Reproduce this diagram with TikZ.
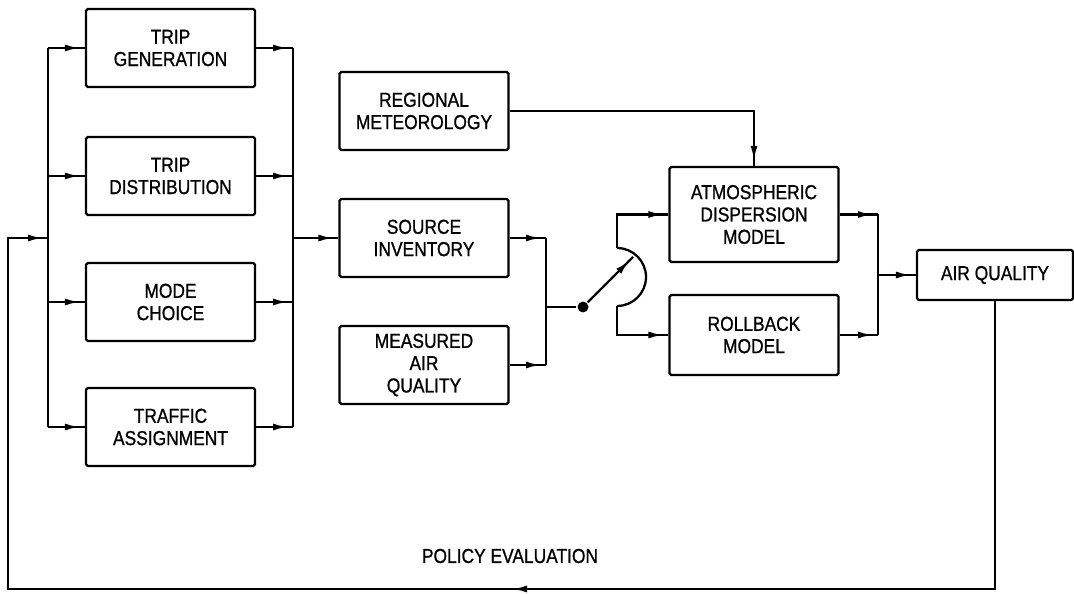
\documentclass[tikz,border=0pt]{standalone}
\usepackage{fontspec}
\setmainfont[FakeStretch=0.86,FakeBold=0.9]{Liberation Sans}
\usetikzlibrary{positioning,calc,arrows.meta,decorations.markings}

\begin{document}
\begin{tikzpicture} [x=0.02cm,y=-0.02cm,
	line width=1.3pt,
	block/.style={
		rectangle,draw,rounded corners=1pt,align=center,
		font=\fontsize{11.5}{12.7}\selectfont,
		minimum width=3.38cm,minimum height=1.56cm},
	tip/.style={
		decoration={markings,
			mark=at position -0.1cm with {\arrow{Latex[length=0.3cm,width=0.14cm]}}},
		postaction={decorate}}]
\useasboundingbox (0,0) rectangle (1074,594);
% transport models
\node[block] (trip generation) 	at (170.5,48) {TRIP\\GENERATION};
\node[block] (trip distribution) 	at (170.5,176) {TRIP\\DISTRIBUTION};
\node[block] (mode choice) 		at (170.5,302) {MODE\\CHOICE};
\node[block] (traffic assignment) 	at (170.5,427) {TRAFFIC\\ASSIGNMENT};
% inputs
\node[block] (regional meteorology) 	at (424,111) {REGIONAL\\METEOROLOGY};
\node[block] (source inventory) 	at (424,238) {SOURCE\\INVENTORY};
\node[block] (measured air quality) 	at (424,365) {MEASURED\\AIR\\QUALITY};
% air quality models
\node[block,minimum height=1.9cm] (dispersion model) 	at (754,214.5) {ATMOSPHERIC\\DISPERSION\\MODEL};
\node[block,minimum height=1.6cm] (rollback model) 	at (754,335) {ROLLBACK\\MODEL};
\node[block,minimum width=3.12cm,minimum height=1cm] (air quality) at (995,275) {AIR QUALITY};
\node[font=\fontsize{11.5}{12.7}\selectfont] (policy) at (510,556) {POLICY EVALUATION};
% buses
\coordinate (left bus) 	at (48,0);
\coordinate (right bus) 	at (293,0);
\coordinate (join bus) 	at (546,0);
\coordinate (out bus) 	at (878,0);
\coordinate (bracket) 	at (617,277);
\coordinate (feedback) 	at (8,589);
\coordinate (feedback mid) 	at (507,589);
\node[circle,fill,inner sep=0pt,minimum size=0.22cm] (switch) at (583,307) {};
\coordinate (switch tip) 	at (633,257);
\draw (left bus |- trip generation) -- (left bus |- traffic assignment);
\draw (right bus |- trip generation) -- (right bus |- traffic assignment);
\foreach \n in {trip generation,trip distribution,mode choice,traffic assignment} {
	\draw[tip] (left bus |- \n.west) -- (\n.west);
	\draw[tip] (\n.east) -- (right bus |- \n.east);
}
\draw[tip] (right bus |- source inventory.west) -- (source inventory.west);
\draw[tip] (source inventory.east) -- (join bus |- source inventory.east);
\draw[tip] (measured air quality.east) -- (join bus |- measured air quality.east);
\draw (join bus |- source inventory.east) -- (join bus |- measured air quality.east);
\draw (join bus |- switch) -- (switch);
\draw[tip] (switch) -- (switch tip);
\draw ($(bracket)+(0,-29)$) arc[start angle=90,end angle=-90,radius=0.58cm];
\draw[tip] ($(bracket)+(0,-29)$) |- (dispersion model.west);
\draw[tip] ($(bracket)+(0,29)$) |- (rollback model.west);
\draw[tip] (regional meteorology.east) -| (dispersion model.north);
\draw[tip] (dispersion model.east) -- (out bus |- dispersion model.east);
\draw[tip] (rollback model.east) -- (out bus |- rollback model.east);
\draw (out bus |- dispersion model.east) -- (out bus |- rollback model.east);
\draw[tip] (out bus |- air quality.west) -- (air quality.west);
% policy evaluation loop
\draw[tip] (air quality.south) |- (feedback mid);
\draw[tip] (feedback mid) -- (feedback) |- (left bus |- source inventory);
\end{tikzpicture}
\end{document}
